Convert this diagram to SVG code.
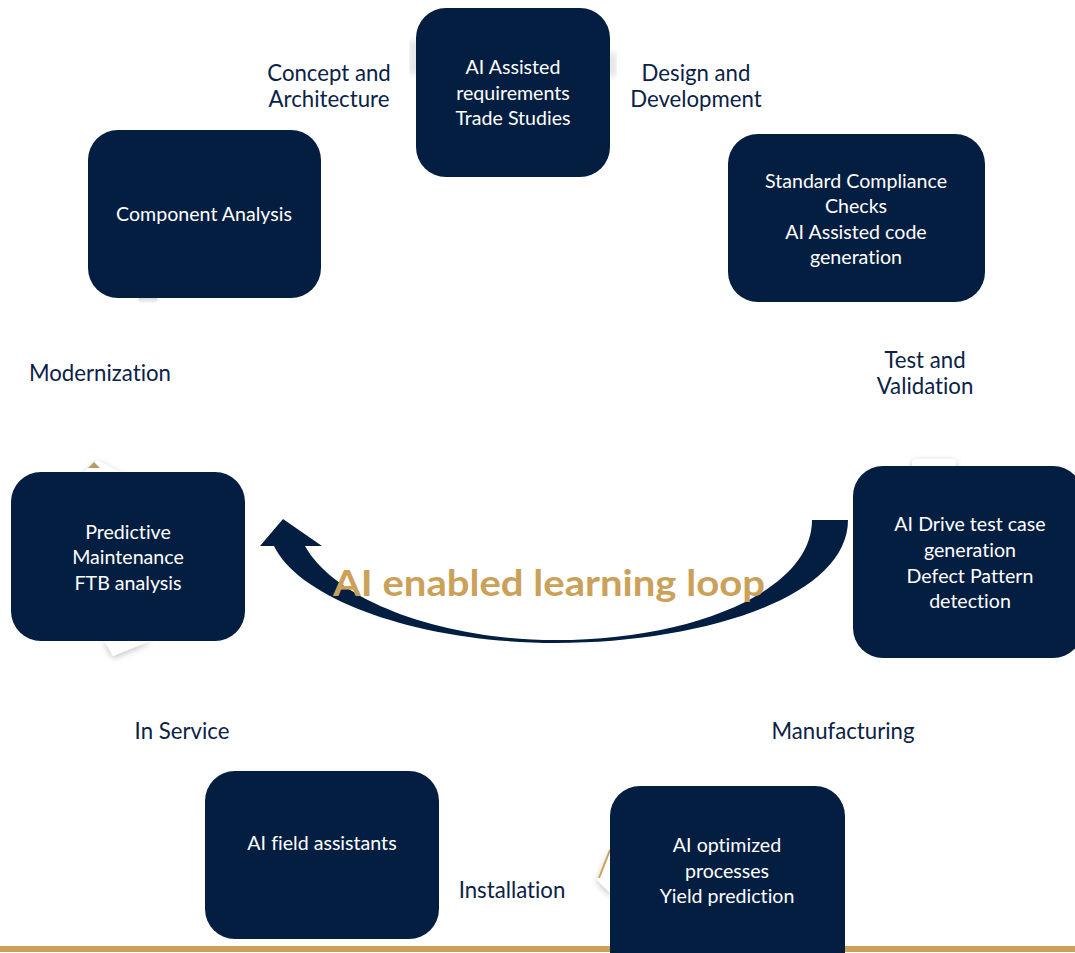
<svg xmlns="http://www.w3.org/2000/svg" width="1075" height="953" viewBox="0 0 1075 953">
<defs>
<filter id="sh" x="-50%" y="-50%" width="200%" height="200%"><feDropShadow dx="0" dy="2" stdDeviation="3" flood-color="#000" flood-opacity="0.25"/></filter>
<filter id="blur"><feGaussianBlur stdDeviation="3"/></filter>
<linearGradient id="gs" x1="0" y1="0" x2="0" y2="1"><stop offset="0" stop-color="#999" stop-opacity="0.5"/><stop offset="1" stop-color="#999" stop-opacity="0"/></linearGradient>
</defs>
<style>
.box{fill:#041E42}
.bt{font-family:Lato,"Open Sans",sans-serif;font-size:19.6px;fill:#FFFFFF;text-anchor:middle;font-variant-ligatures:none}
.lb{font-family:Lato,"Open Sans",sans-serif;font-size:22.2px;fill:#0A2246;text-anchor:middle;font-variant-ligatures:none}
.big{font-family:Lato,"Open Sans",sans-serif;font-size:37px;font-weight:bold;fill:#CBA15A;text-anchor:middle}
.card{fill:#FFFFFF;filter:url(#sh)}
</style>
<rect width="1075" height="953" fill="#FFFFFF"/>
<g id="decor">
<polygon class="card" points="82,474 97,460 124,474"/>
<polygon points="88,468 94,462 100,468" fill="#B89A6A"/>
<polygon class="card" points="104,640 113,656 152,640"/>
<polygon class="card" points="612,846 597,880 612,895"/>
<line x1="610" y1="850" x2="599" y2="878" stroke="#CBA15A" stroke-width="2"/>
<rect class="card" x="912" y="459" width="44" height="12" rx="4"/>
<ellipse cx="148" cy="300" rx="10" ry="4" fill="url(#gs)"/>
<rect x="410" y="40" width="8" height="35" fill="#000" opacity="0.12" rx="4" filter="url(#blur)"/>
<rect x="608" y="52" width="8" height="25" fill="#000" opacity="0.12" rx="4" filter="url(#blur)"/>
</g>
<rect id="baseline" x="0" y="946" width="1075" height="6" fill="#CBA15A"/>
<g id="connectors">
<path d="M848,520 C848,598 700,643 556,643 C420,643 300,600 274,546 L260,546 L283,519 L322,546 L305,546 C335,600 440,640 556,640 C690,640 812,592 812,520 Z" fill="#041E42"/>
</g>
<g id="n-requirements"><rect class="box" x="416" y="8" width="194" height="169" rx="30"/>
<text class="bt" x="513" y="74">AI Assisted</text><text class="bt" x="513" y="100">requirements</text><text class="bt" x="513" y="125">Trade Studies</text></g>
<g id="n-component"><rect class="box" x="88" y="130" width="233" height="168" rx="30"/>
<text class="bt" x="204" y="221">Component Analysis</text></g>
<g id="n-compliance"><rect class="box" x="728" y="134" width="257" height="168" rx="30"/>
<text class="bt" x="856" y="188">Standard Compliance</text><text class="bt" x="856" y="213">Checks</text><text class="bt" x="856" y="239">AI Assisted code</text><text class="bt" x="856" y="264">generation</text></g>
<g id="n-testcase"><rect class="box" x="853" y="466" width="230" height="192" rx="30"/>
<text class="bt" x="970" y="531">AI Drive test case</text><text class="bt" x="970" y="557">generation</text><text class="bt" x="970" y="583">Defect Pattern</text><text class="bt" x="970" y="608">detection</text></g>
<g id="n-predictive"><rect class="box" x="11" y="472" width="234" height="169" rx="30"/>
<text class="bt" x="128" y="539">Predictive</text><text class="bt" x="128" y="564">Maintenance</text><text class="bt" x="128" y="590">FTB analysis</text></g>
<g id="n-field"><rect class="box" x="205" y="771" width="234" height="168" rx="30"/>
<text class="bt" x="322" y="850">AI field assistants</text></g>
<g id="n-optimized"><rect class="box" x="610" y="786" width="235" height="200" rx="30"/>
<text class="bt" x="727" y="852">AI optimized</text><text class="bt" x="727" y="878">processes</text><text class="bt" x="727" y="903">Yield prediction</text></g>
<g id="labels">
<text class="lb" x="329" y="81">Concept and</text><text class="lb" x="329" y="107">Architecture</text>
<text class="lb" x="696" y="81">Design and</text><text class="lb" x="696" y="107">Development</text>
<text class="lb" x="925" y="368">Test and</text><text class="lb" x="925" y="394">Validation</text>
<text class="lb" x="100" y="381">Modernization</text>
<text class="lb" x="182" y="739">In Service</text>
<text class="lb" x="843" y="739">Manufacturing</text>
<text class="lb" x="512" y="898">Installation</text>
</g>
<text class="big" x="549" y="596" textLength="432" lengthAdjust="spacingAndGlyphs">AI enabled learning loop</text>
</svg>
